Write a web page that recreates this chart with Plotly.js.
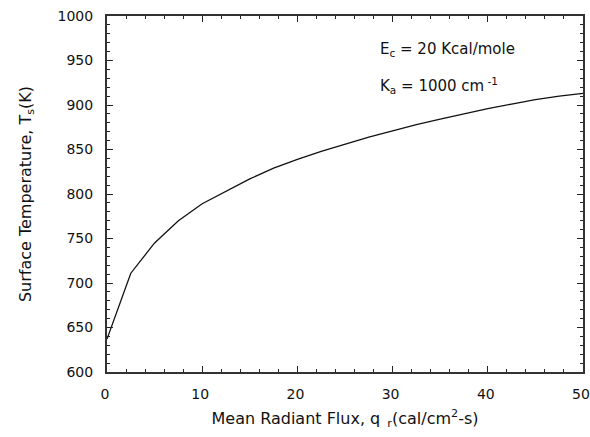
<!DOCTYPE html>
<html><head><meta charset="utf-8">
<script src="https://cdn.plot.ly/plotly-3.0.1.min.js"></script>
<style>body{margin:0;background:#fff}#c{width:590px;height:437px}</style>
</head><body><div id="c"></div>
<script>
const flux = [0, 2.5, 5, 7.5, 10, 12.5, 15, 17.5, 20, 22.5, 25, 27.5, 30, 32.5, 35, 37.5, 40, 42.5, 45, 47.5, 50];
const temp = [637, 711, 745, 770, 789, 803, 817, 829, 839, 848, 856, 864, 871, 878, 884, 890, 896, 901, 906, 910, 913];
const xTicks = [0, 10, 20, 30, 40, 50];
const yTicks = [600, 650, 700, 750, 800, 850, 900, 950, 1000];
const notes = ["E<sub>c</sub> = 20 Kcal/mole", "K<sub>a</sub> = 1000 cm<sup> -1</sup>"];

const fam = 'DejaVu Sans, Liberation Sans, Arial, sans-serif';
const font = {family: fam, size: 14, color: '#111'};
const titleFont = {family: fam, size: 16, color: '#111'};
const noteFont = {family: fam, size: 15, color: '#111'};
Plotly.newPlot('c', [{
  x: flux, y: temp, type: 'scatter', mode: 'lines',
  line: {color: '#111', width: 1.3}, hoverinfo: 'none'
}], {
  width: 590, height: 437,
  margin: {l: 107, r: 7, t: 16, b: 65},
  paper_bgcolor: '#fff', plot_bgcolor: '#fff',
  showlegend: false, font: font,
  xaxis: {
    range: [0, 50], tickvals: xTicks, ticks: 'inside', ticklen: 6, tickwidth: 1, tickcolor: '#222',
    minor: {dtick: 2, ticks: 'inside', ticklen: 3, tickcolor: '#222'},
    showline: true, linecolor: '#333', linewidth: 2, mirror: 'allticks',
    showgrid: false, zeroline: false, tickfont: font,
    ticklabeloverflow: 'allow', ticklabelstandoff: 8, ticklabelshift: -2,
    title: {text: 'Mean Radiant Flux, q<sub>  r</sub>(cal/cm<sup>2</sup>-s)', font: titleFont, standoff: 12}
  },
  yaxis: {
    range: [600, 1000], tickvals: yTicks, ticks: 'inside', ticklen: 6, tickwidth: 1, tickcolor: '#222',
    minor: {dtick: 10, ticks: 'inside', ticklen: 3, tickcolor: '#222'},
    showline: true, linecolor: '#333', linewidth: 2, mirror: 'allticks',
    showgrid: false, zeroline: false, tickfont: font,
    ticklabeloverflow: 'allow', ticklabelstandoff: 9,
    title: {text: 'Surface Temperature, T<sub>s</sub>(K)', font: titleFont, standoff: 22}
  },
  annotations: [
    {x: 28.5, y: 962, xanchor: 'left', yanchor: 'middle', text: notes[0], showarrow: false, font: noteFont},
    {x: 28.5, y: 922, xanchor: 'left', yanchor: 'middle', text: notes[1], showarrow: false, font: noteFont}
  ]
}, {staticPlot: true});
</script></body></html>
